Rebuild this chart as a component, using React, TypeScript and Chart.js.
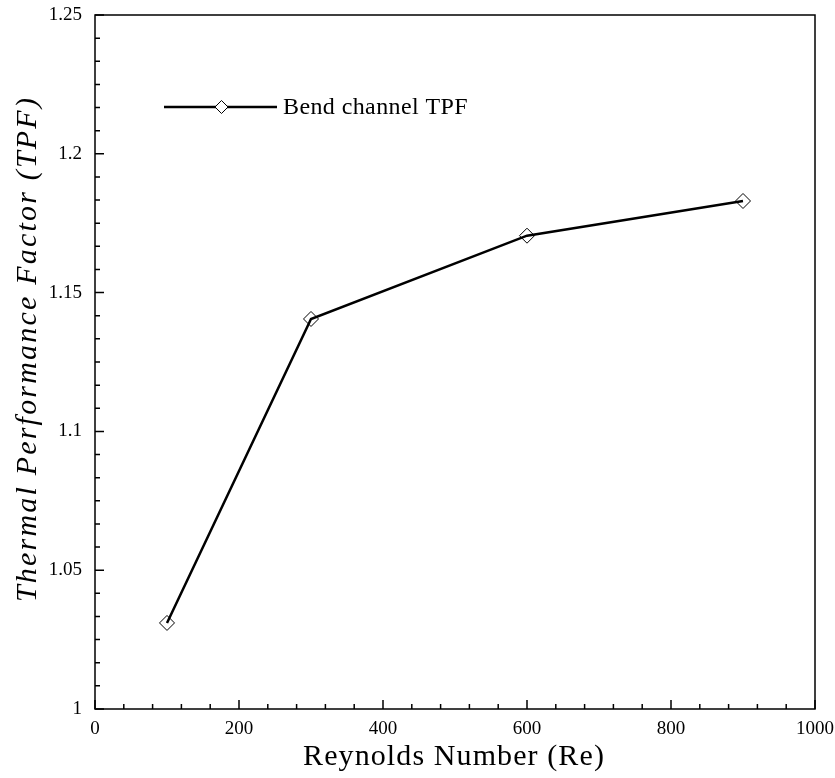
import React, { useEffect, useRef } from "react";
import { Chart, registerables } from "chart.js";

Chart.register(...registerables);

const reynolds = [100, 300, 600, 900];
const tpfValues = [1.031, 1.1405, 1.1705, 1.183];
const seriesLabel = "Bend channel TPF";
const xTitle = "Reynolds Number (Re)";
const yTitle = "Thermal Performance Factor (TPF)";
const xMajorTicks = [0, 200, 400, 600, 800, 1000];
const yMajorTicks = [1, 1.05, 1.1, 1.15, 1.2, 1.25];

const FONT = "'Liberation Serif', 'Times New Roman', serif";

const framePlugin = {
  id: "frameTicks",
  afterDraw(chart: any) {
    const { ctx, chartArea } = chart;
    const xs = chart.scales.x;
    const ys = chart.scales.y;
    ctx.save();
    ctx.strokeStyle = "#000";
    ctx.lineWidth = 1.5;
    ctx.strokeRect(chartArea.left, chartArea.top, chartArea.right - chartArea.left, chartArea.bottom - chartArea.top);
    ctx.beginPath();
    for (let i = 0; i <= 25; i++) {
      const v = i * 40;
      const px = xs.getPixelForValue(v);
      const len = i % 5 === 0 ? 9 : 5;
      ctx.moveTo(px, chartArea.bottom);
      ctx.lineTo(px, chartArea.bottom - len);
    }
    for (let i = 0; i <= 30; i++) {
      const v = 1 + (i * 0.05) / 6;
      const py = ys.getPixelForValue(v);
      const len = i % 6 === 0 ? 9 : 5;
      ctx.moveTo(chartArea.left, py);
      ctx.lineTo(chartArea.left + len, py);
    }
    ctx.stroke();

    // legend
    const ly = 107;
    const lx0 = 164;
    const lx1 = 277;
    ctx.lineWidth = 2.5;
    ctx.beginPath();
    ctx.moveTo(lx0, ly);
    ctx.lineTo(lx1, ly);
    ctx.stroke();
    const cx = (lx0 + lx1) / 2 + 1;
    const r = 6.5;
    ctx.lineWidth = 1;
    ctx.fillStyle = "#fff";
    ctx.beginPath();
    ctx.moveTo(cx - r, ly);
    ctx.lineTo(cx, ly - r);
    ctx.lineTo(cx + r, ly);
    ctx.lineTo(cx, ly + r);
    ctx.closePath();
    ctx.fill();
    ctx.stroke();
    ctx.fillStyle = "#000";
    ctx.font = `24px ${FONT}`;
    (ctx as any).letterSpacing = "0.4px";
    ctx.textAlign = "left";
    ctx.textBaseline = "middle";
    ctx.fillText(chart.data.datasets[0].label, 283, ly + 1);

    // axis titles
    ctx.textAlign = "center";
    ctx.textBaseline = "alphabetic";
    ctx.font = `30px ${FONT}`;
    (ctx as any).letterSpacing = "1.1px";
    ctx.fillText(xTitle, (chartArea.left + chartArea.right) / 2 - 1, 765);

    ctx.translate(36, 349);
    ctx.rotate(-Math.PI / 2);
    ctx.font = `italic 30px ${FONT}`;
    (ctx as any).letterSpacing = "2.2px";
    ctx.fillText(yTitle, 0, 0);
    ctx.restore();
  },
};

export default function App() {
  const ref = useRef<HTMLCanvasElement | null>(null);
  useEffect(() => {
    if (!ref.current) return;
    const chart = new Chart(ref.current, {
      type: "line",
      data: {
        datasets: [
          {
            label: seriesLabel,
            data: reynolds.map((x, i) => ({ x, y: tpfValues[i] })),
            borderColor: "#000",
            borderWidth: 2.5,
            pointStyle: "rectRot",
            pointRadius: 7.5,
            pointBorderWidth: 1,
            pointBorderColor: "#000",
            pointBackgroundColor: "rgba(0,0,0,0)",
            tension: 0,
            fill: false,
          },
        ],
      },
      plugins: [framePlugin],
      options: {
        animation: false,
        responsive: false,
        maintainAspectRatio: false,
        layout: { padding: { top: 15, right: 20, left: 0, bottom: 0 } },
        plugins: { legend: { display: false }, tooltip: { enabled: false } },
        scales: {
          x: {
            type: "linear",
            min: 0,
            max: 1000,
            afterFit: (s: any) => {
              s.height = 69;
              s.paddingLeft = 0;
              s.paddingRight = 0;
            },
            afterBuildTicks: (s: any) => {
              s.ticks = xMajorTicks.map((v) => ({ value: v }));
            },
            grid: { display: false, drawTicks: false },
            border: { display: false },
            ticks: {
              color: "#000",
              padding: 9,
              font: { family: FONT, size: 19 },
              maxRotation: 0,
              autoSkip: false,
              callback: (v: any) => String(v),
            },
            title: { display: false },
          },
          y: {
            type: "linear",
            min: 1,
            max: 1.25,
            afterFit: (s: any) => {
              s.width = 95;
              s.paddingTop = 0;
              s.paddingBottom = 0;
            },
            afterBuildTicks: (s: any) => {
              s.ticks = yMajorTicks.map((v) => ({ value: v }));
            },
            grid: { display: false, drawTicks: false },
            border: { display: false },
            ticks: {
              color: "#000",
              padding: 13,
              font: { family: FONT, size: 19 },
              autoSkip: false,
              callback: (v: any) => String(Number(Number(v).toFixed(2))),
            },
            title: { display: false },
          },
        },
      },
    });
    return () => chart.destroy();
  }, []);
  return (
    <div style={{ position: "fixed", left: 0, top: 0, width: 835, height: 778, background: "#fff" }}>
      <canvas ref={ref} width={835} height={778} style={{ width: 835, height: 778 }} />
    </div>
  );
}
